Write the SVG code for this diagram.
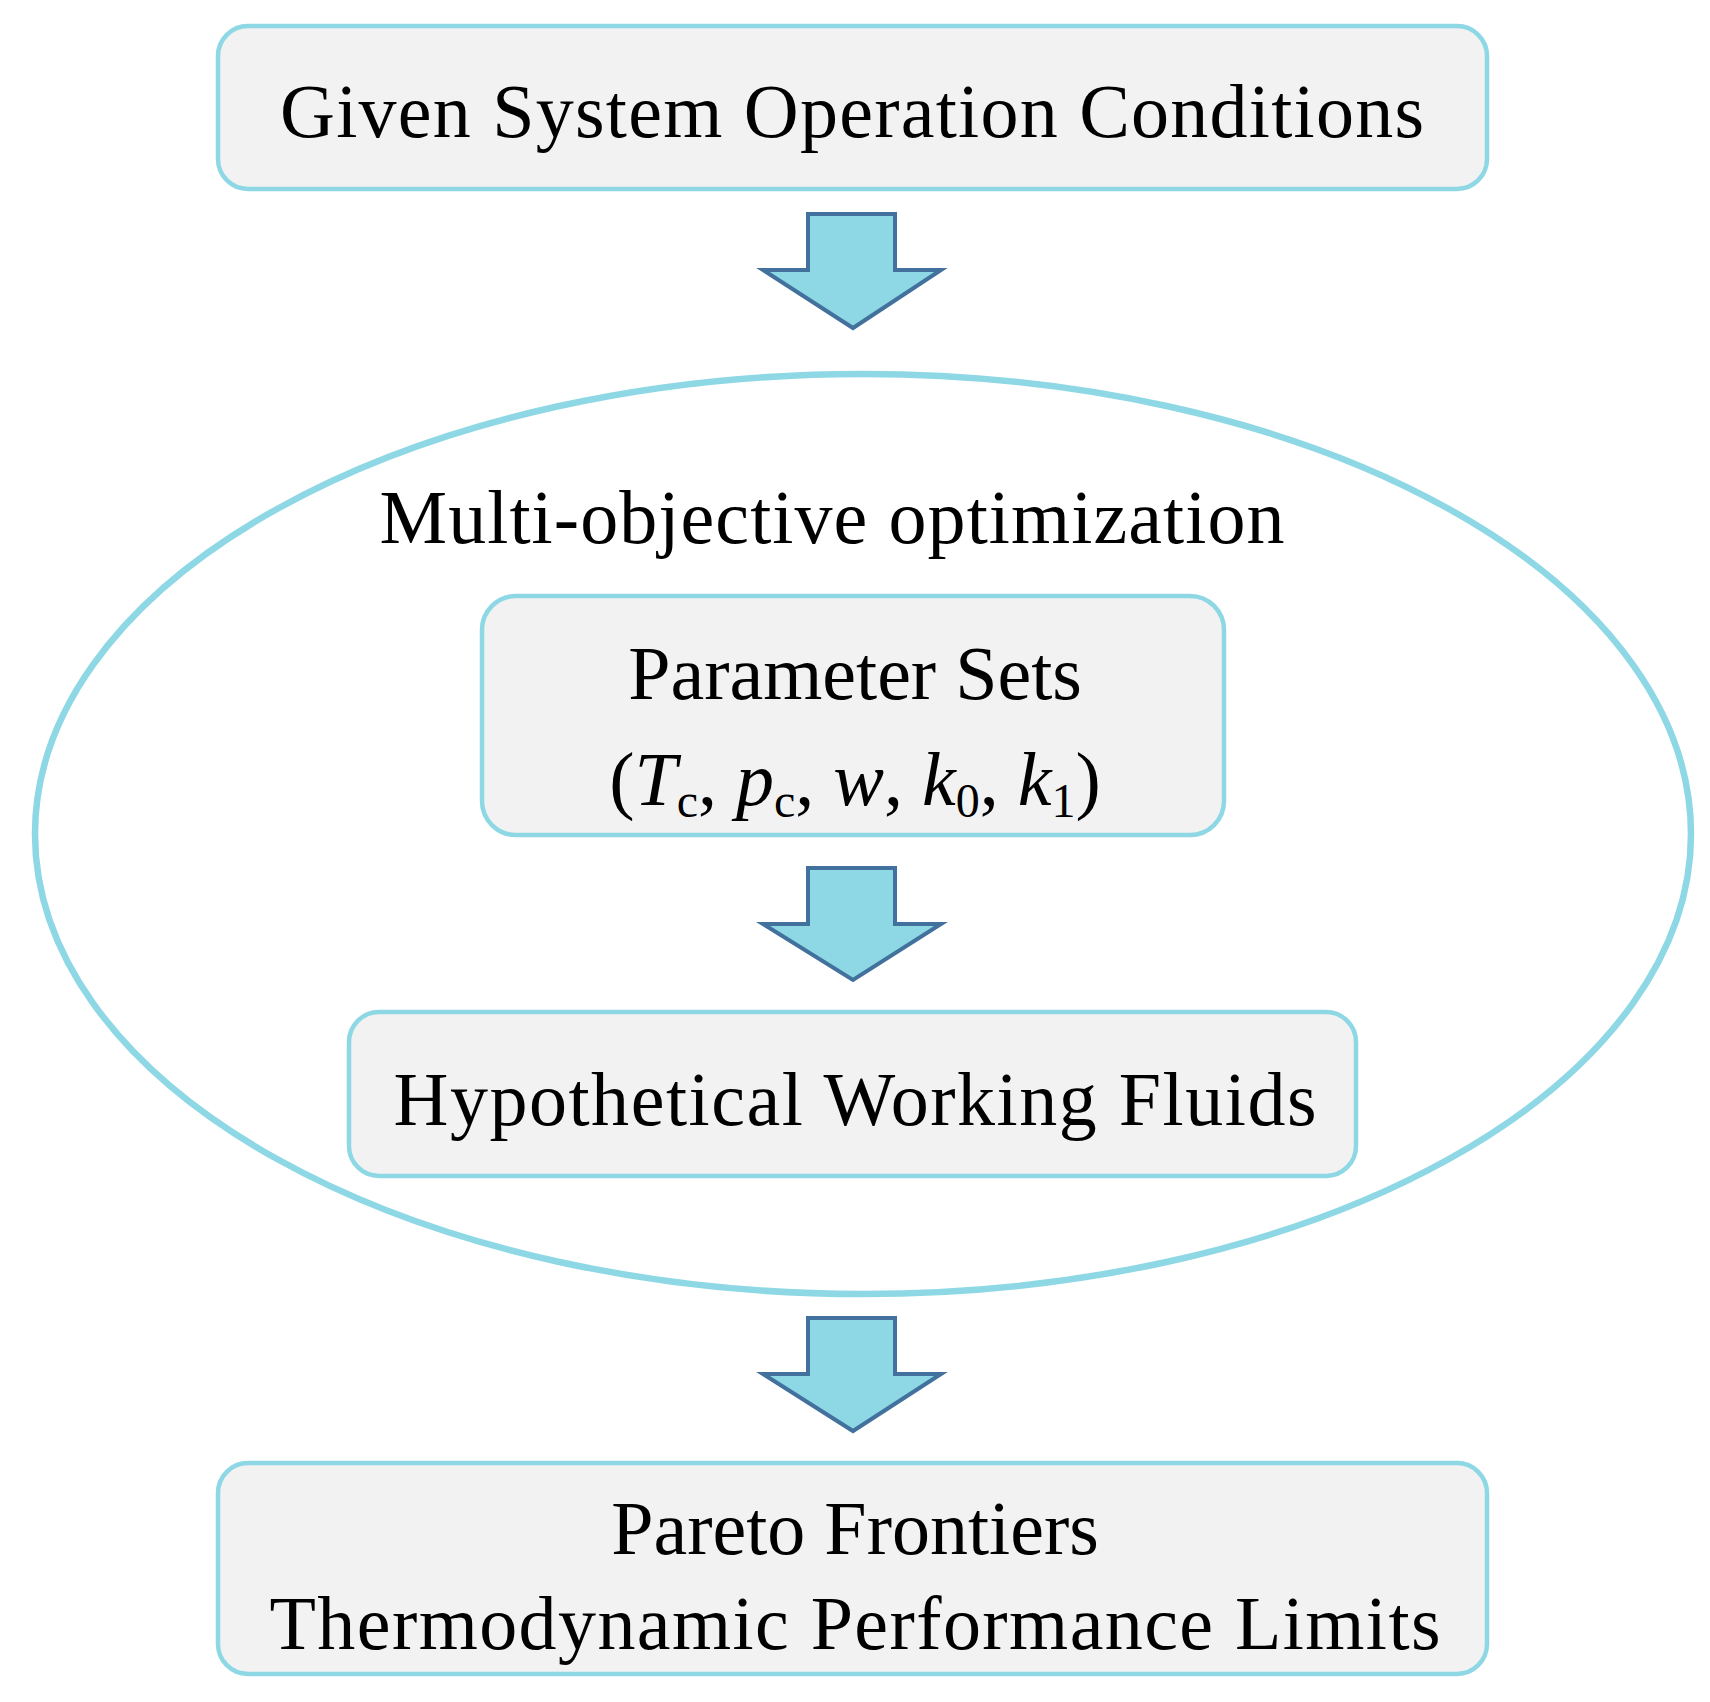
<svg xmlns="http://www.w3.org/2000/svg" width="1710" height="1702" viewBox="0 0 1710 1702">
<style>
.box{fill:#F2F2F2;stroke:#8ED8E5;stroke-width:4.5}
.t{font-family:"Liberation Serif",serif;font-size:76px;fill:#000;text-anchor:middle}
.arr{fill:#8ED8E5;stroke:#41719C;stroke-width:4;stroke-linejoin:miter}
</style>
<rect width="1710" height="1702" fill="#fff"/>
<g id="ellipse"><ellipse cx="863" cy="834" rx="828" ry="460" fill="none" stroke="#8ED8E5" stroke-width="6.5"/>
<text class="t" x="832" y="543" textLength="905" lengthAdjust="spacing">Multi-objective optimization</text></g>
<g id="n1"><rect class="box" x="218" y="26" width="1269" height="163" rx="30"/>
<text class="t" x="852" y="137" textLength="1144" lengthAdjust="spacing">Given System Operation Conditions</text></g>
<g id="n2"><rect class="box" x="482" y="596" width="742" height="239" rx="34"/>
<text class="t" x="855" y="699">Parameter Sets</text>
<text class="t" x="855" y="805">(<tspan font-style="italic">T</tspan><tspan font-size="48" dy="12">c</tspan><tspan dy="-12">, </tspan><tspan font-style="italic">p</tspan><tspan font-size="48" dy="12">c</tspan><tspan dy="-12">, </tspan><tspan font-style="italic">w</tspan>, <tspan font-style="italic">k</tspan><tspan font-size="48" dy="12">0</tspan><tspan dy="-12">, </tspan><tspan font-style="italic">k</tspan><tspan font-size="48" dy="12">1</tspan><tspan dy="-12">)</tspan></text></g>
<g id="n3"><rect class="box" x="349" y="1012" width="1007" height="164" rx="30"/>
<text class="t" x="855" y="1125" textLength="923" lengthAdjust="spacing">Hypothetical Working Fluids</text></g>
<g id="n4"><rect class="box" x="218" y="1463" width="1269" height="211" rx="30"/>
<text class="t" x="855" y="1554">Pareto Frontiers</text>
<text class="t" x="855" y="1649" textLength="1171" lengthAdjust="spacing">Thermodynamic Performance Limits</text></g>
<g id="connectors">
<path class="arr" d="M808 214H895V270H941L853 328L763 270H808Z"/>
<path class="arr" d="M808 868H895V924H941L853 980L763 924H808Z"/>
<path class="arr" d="M808 1318H895V1374H941L853 1431L763 1374H808Z"/>
</g>
</svg>
